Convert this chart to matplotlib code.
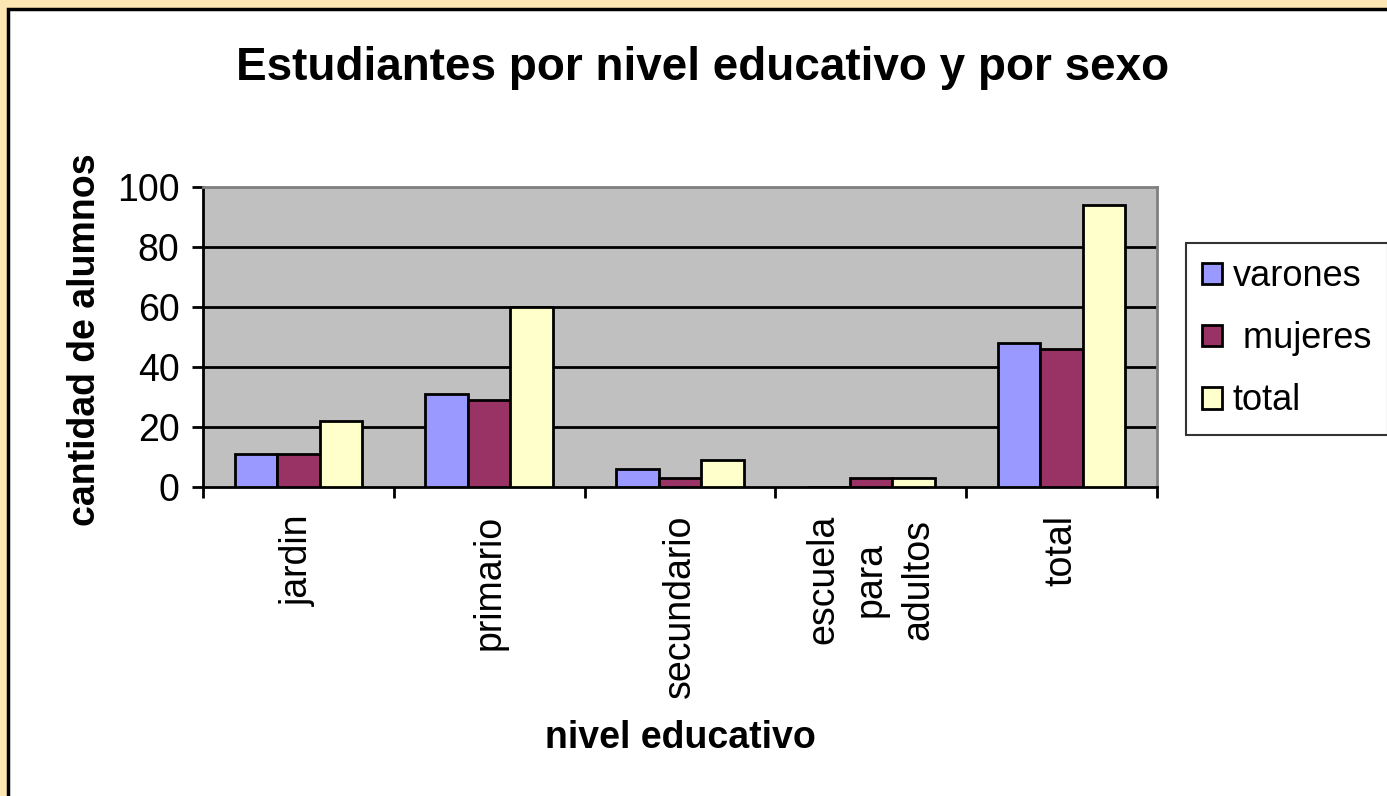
import numpy as np
import matplotlib
matplotlib.use("Agg")
import matplotlib.pyplot as plt
from matplotlib.patches import Rectangle

plt.rcParams['font.family'] = ['Liberation Sans', 'DejaVu Sans']

# data
categorias = ["jardin", "primario", "secundario", "escuela\npara\nadultos", "total"]
varones = [11, 31, 6, 0, 48]
mujeres = [11, 29, 3, 3, 46]
total = [22, 60, 9, 3, 94]
series = ["varones", " mujeres", "total"]
colores = ["#9999FF", "#993366", "#FFFFCC"]

W, H = 1387, 796
fig = plt.figure(figsize=(W / 100, H / 100), dpi=100)
fig.patch.set_facecolor("#FCE7B4")

# white chart area with black frame
fig.patches.append(Rectangle((8 / W, -0.05), 1.1, (H - 9) / H + 0.05,
                             transform=fig.transFigure, facecolor="white",
                             edgecolor="black", linewidth=2.5, zorder=-10))

ax = fig.add_axes([203 / W, (H - 487) / H, 954 / W, 300 / H])
ax.set_facecolor("#C0C0C0")

x = np.arange(len(categorias))
w = 0.223
for i, (vals, c, lab) in enumerate(zip([varones, mujeres, total], colores, series)):
    ax.bar(x + (i - 1) * w, vals, width=w, color=c, edgecolor="black",
           linewidth=2, label=lab, zorder=3)

ax.set_xlim(-0.5, len(categorias) - 0.5)
ax.set_ylim(0, 100)
ax.set_yticks(range(0, 101, 20))
ax.tick_params(axis="y", labelsize=27, length=8, width=2, direction="out", pad=9)
for yv in range(20, 100, 20):
    ax.axhline(yv, color="black", linewidth=2, zorder=1)

ax.set_xticks(x)
ax.set_xticklabels(categorias, rotation=90, fontsize=27, linespacing=1.4,
                   multialignment="center", va="top")
ax.tick_params(axis="x", length=0, pad=20)
ax.set_xticks(np.arange(-0.5, len(categorias)), minor=True)
ax.tick_params(axis="x", which="minor", length=8, width=2, direction="out")

for s in ["left", "bottom"]:
    ax.spines[s].set_color("black")
    ax.spines[s].set_linewidth(2)
for s in ["top", "right"]:
    ax.spines[s].set_color("#808080")
    ax.spines[s].set_linewidth(2)

fig.text(703 / W, 1 - 68 / H, "Estudiantes por nivel educativo y por sexo",
         ha="center", va="center", fontsize=33, fontweight="bold")
fig.text(680 / W, 1 - 738 / H, "nivel educativo", ha="center", va="center",
         fontsize=27, fontweight="bold")
fig.text(85 / W, 1 - 340 / H, "cantidad de alumnos", ha="center", va="center",
         rotation=90, fontsize=27, fontweight="bold")

leg = fig.legend(loc="upper left", bbox_to_anchor=(1186 / W, 1 - 243 / H),
                 fontsize=26, frameon=True, fancybox=False, handlelength=0.55,
                 handleheight=0.55, handletextpad=0.3, labelspacing=0.75,
                 borderpad=0.45, borderaxespad=0)
leg.get_frame().set_edgecolor("black")
leg.get_frame().set_linewidth(1.5)

fig.savefig("out.png", dpi=100)
